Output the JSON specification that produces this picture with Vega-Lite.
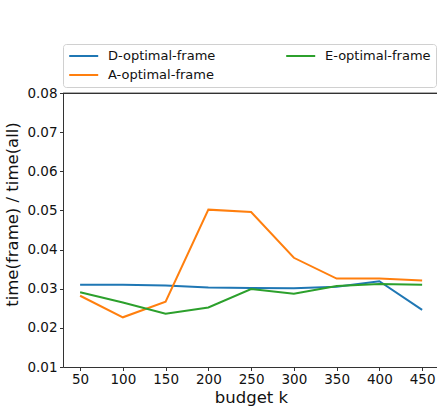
{
  "$schema": "https://vega.github.io/schema/vega-lite/v6.json",
  "autosize": "none",
  "width": 374,
  "height": 274,
  "padding": {"left": 63, "top": 93, "right": 0, "bottom": 39},
  "background": "white",
  "config": {
    "font": "DejaVu Sans",
    "view": {"stroke": null},
    "axis": {
      "domainColor": "#333",
      "tickColor": "#333",
      "labelColor": "#111",
      "titleColor": "#111",
      "labelFontSize": 13.5,
      "titleFontSize": 16.5,
      "titleFontWeight": "normal",
      "tickSize": 3.5,
      "labelOverlap": false,
      "labelFlush": false,
      "grid": false
    }
  },
  "data": {
    "values": [
      {"k": 50, "s": "D-optimal-frame", "v": 0.0310},
      {"k": 100, "s": "D-optimal-frame", "v": 0.0310},
      {"k": 150, "s": "D-optimal-frame", "v": 0.0308},
      {"k": 200, "s": "D-optimal-frame", "v": 0.0303},
      {"k": 250, "s": "D-optimal-frame", "v": 0.0302},
      {"k": 300, "s": "D-optimal-frame", "v": 0.0301},
      {"k": 350, "s": "D-optimal-frame", "v": 0.0305},
      {"k": 400, "s": "D-optimal-frame", "v": 0.0319},
      {"k": 450, "s": "D-optimal-frame", "v": 0.0246},
      {"k": 50, "s": "A-optimal-frame", "v": 0.0282},
      {"k": 100, "s": "A-optimal-frame", "v": 0.0227},
      {"k": 150, "s": "A-optimal-frame", "v": 0.0267},
      {"k": 200, "s": "A-optimal-frame", "v": 0.0502},
      {"k": 250, "s": "A-optimal-frame", "v": 0.0496},
      {"k": 300, "s": "A-optimal-frame", "v": 0.0379},
      {"k": 350, "s": "A-optimal-frame", "v": 0.0326},
      {"k": 400, "s": "A-optimal-frame", "v": 0.0326},
      {"k": 450, "s": "A-optimal-frame", "v": 0.0321},
      {"k": 50, "s": "E-optimal-frame", "v": 0.0291},
      {"k": 100, "s": "E-optimal-frame", "v": 0.0265},
      {"k": 150, "s": "E-optimal-frame", "v": 0.0236},
      {"k": 200, "s": "E-optimal-frame", "v": 0.0252},
      {"k": 250, "s": "E-optimal-frame", "v": 0.0299},
      {"k": 300, "s": "E-optimal-frame", "v": 0.0287},
      {"k": 350, "s": "E-optimal-frame", "v": 0.0307},
      {"k": 400, "s": "E-optimal-frame", "v": 0.0312},
      {"k": 450, "s": "E-optimal-frame", "v": 0.0310}
    ]
  },
  "layer": [
    {
      "mark": {"type": "line", "strokeWidth": 2, "clip": true},
      "encoding": {
        "x": {
          "field": "k",
          "type": "quantitative",
          "scale": {"domain": [30, 467.4], "nice": false, "zero": false},
          "axis": {
            "values": [50, 100, 150, 200, 250, 300, 350, 400, 450],
            "tickCount": 20,
            "title": "budget k",
            "labelPadding": 1.5,
            "labelOverlap": false,
            "titleBaseline": "alphabetic",
            "titleY": 35,
            "titleX": 188
          }
        },
        "y": {
          "field": "v",
          "type": "quantitative",
          "scale": {"domain": [0.01, 0.08], "nice": false, "zero": false},
          "axis": {
            "values": [0.01, 0.02, 0.03, 0.04, 0.05, 0.06, 0.07, 0.08],
            "tickCount": 20,
            "format": ".2f",
            "title": "time(frame) / time(all)",
            "labelPadding": 2.5,
            "labelOverlap": false,
            "labelFlush": false,
            "titleAngle": -90,
            "titleBaseline": "alphabetic",
            "titleX": -45.7,
            "titleY": 121,
            "titleAlign": "center"
          }
        },
        "color": {
          "field": "s",
          "type": "nominal",
          "scale": {
            "domain": ["D-optimal-frame", "A-optimal-frame", "E-optimal-frame"],
            "range": ["#1f77b4", "#ff7f0e", "#2ca02c"]
          },
          "legend": {
            "title": null,
            "orient": "none",
            "legendX": 0,
            "legendY": -49,
            "columns": 2,
            "columnPadding": 66,
            "rowPadding": 5,
            "padding": 5,
            "symbolType": "M-1,0H4",
            "symbolSize": 134.6,
            "symbolStrokeWidth": 2,
            "labelOffset": 26,
            "labelFontSize": 13,
            "labelColor": "#111",
            "strokeColor": "#d0d0d0",
            "fillColor": "white",
            "cornerRadius": 3
          }
        }
      }
    },
    {
      "mark": {"type": "rule", "color": "#333", "strokeWidth": 1},
      "encoding": {"y": {"datum": 0.0798723, "type": "quantitative"}}
    }
  ]
}
